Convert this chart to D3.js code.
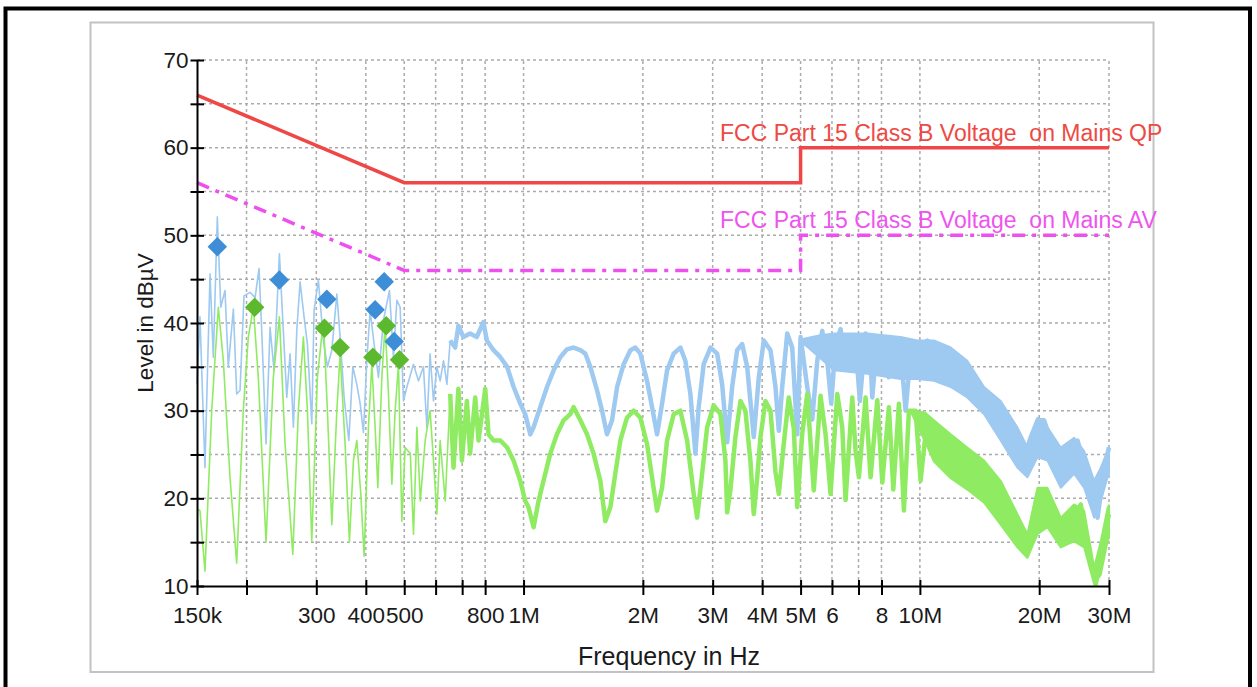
<!DOCTYPE html>
<html>
<head>
<meta charset="utf-8">
<script src="https://cdn.jsdelivr.net/npm/d3@7"></script>
<style>
  body { margin: 0; background: #fff; }
  svg { display: block; font-family: 'Liberation Sans', Arial, sans-serif; }
</style>
</head>
<body>
<div id="chart"></div>
<script>
// frequency axis (MHz) and level axis (dBµV)
const xTicks = [0.15, 0.2, 0.3, 0.4, 0.5, 0.6, 0.7, 0.8, 1, 2, 3, 4, 5, 6, 7, 8, 10, 20, 30];
const xTickLabels = ['150k', '', '300', '400', '500', '', '', '800', '1M', '2M', '3M', '4M', '5M', '6', '', '8', '10M', '20M', '30M'];
const yTicks = [10, 15, 20, 25, 30, 35, 40, 45, 50, 55, 60, 65, 70];
const yTickLabels = ['10', '', '20', '', '30', '', '40', '', '50', '', '60', '', '70'];

// limit lines [MHz, dBµV]
const limitQP = [[0.15, 66], [0.5, 56], [5, 56], [5, 60], [30, 60]];
const limitAV = [[0.15, 56], [0.5, 46], [5, 46], [5, 50], [30, 50]];
const limitQPLabel = 'FCC Part 15 Class B Voltage  on Mains QP';
const limitAVLabel = 'FCC Part 15 Class B Voltage  on Mains AV';

// peak (QP) trace
const qpLow = [[0.150, 33.0], [0.1526, 40.7], [0.1571, 23.5], [0.1618, 45.6], [0.1649, 36.1], [0.1688, 52.1],
  [0.1722, 41.8], [0.1765, 43.7], [0.1799, 35.0], [0.1853, 41.6], [0.1889, 31.9], [0.1926, 32.3], [0.1971, 43.1],
  [0.2041, 43.5], [0.2102, 42.9], [0.2151, 46.2], [0.2185, 39.1], [0.2240, 26.2], [0.2293, 39.5], [0.2347, 34.6],
  [0.2421, 47.9], [0.2469, 40.3], [0.2527, 31.5], [0.2576, 36.5], [0.2626, 28.1], [0.2678, 39.1], [0.2730, 44.7],
  [0.2794, 40.7], [0.2849, 37.6], [0.2922, 28.5], [0.2961, 41.4], [0.3036, 44.9], [0.3126, 38.0], [0.3200, 35.0],
  [0.3283, 36.9], [0.3380, 43.3], [0.3445, 38.4], [0.3526, 31.5], [0.3624, 26.6], [0.3709, 35.0], [0.3796, 33.0],
  [0.3870, 30.8], [0.3945, 27.5], [0.4023, 35.7], [0.4101, 41.4], [0.4198, 37.6], [0.4304, 33.8], [0.4431, 40.3],
  [0.4588, 43.7], [0.4696, 36.1], [0.4790, 42.6], [0.4883, 41.8], [0.4977, 31.1], [0.5077, 32.7], [0.5276, 35.3],
  [0.5431, 33.4], [0.5591, 35.0], [0.5703, 28.1], [0.581, 36.5], [0.5926, 31.1], [0.6044, 35.0], [0.616, 33.4],
  [0.6281, 35.7], [0.6406, 33.0], [0.653, 38.0]];
const qpHigh = [[0.653, 38.0], [0.672, 37.2], [0.685, 39.7], [0.705, 38.4], [0.733, 38.8], [0.762, 38.4],
  [0.792, 40.1], [0.808, 38.0], [0.840, 36.9], [0.874, 36.1], [0.909, 35.0], [0.944, 32.7], [0.981, 30.8],
  [1.010, 29.6], [1.040, 27.3], [1.060, 28.1], [1.102, 30.4], [1.146, 32.7], [1.191, 34.6], [1.238, 36.1],
  [1.287, 37.0], [1.337, 37.2], [1.391, 36.9], [1.432, 36.5], [1.474, 35.0], [1.533, 32.3], [1.578, 30.0],
  [1.624, 27.3], [1.672, 28.9], [1.722, 32.7], [1.789, 35.3], [1.860, 36.9], [1.915, 37.2], [1.971, 36.5],
  [2.049, 33.4], [2.110, 30.4], [2.172, 27.3], [2.236, 30.8], [2.302, 34.6], [2.392, 36.5], [2.487, 37.2],
  [2.560, 35.7], [2.636, 31.9], [2.714, 25.1], [2.766, 30.4], [2.848, 35.3], [2.962, 37.2], [3.080, 36.5],
  [3.170, 33.0], [3.264, 26.4], [3.360, 32.7], [3.459, 36.9], [3.561, 37.6], [3.666, 35.0], [3.809, 27.0],
  [3.922, 33.8], [4.038, 38.0], [4.198, 36.9], [4.322, 32.7], [4.406, 27.7], [4.494, 32.7], [4.627, 38.8],
  [4.763, 37.2], [4.904, 27.3], [5.000, 38.4], [5.198, 32.7], [5.351, 29.0], [5.509, 35.7], [5.671, 39.1],
  [5.838, 35.7], [5.975, 30.8], [6.127, 37.6], [6.307, 39.3], [6.493, 35.3], [6.751, 38.4], [6.951, 35.0],
  [7.057, 31.1], [7.294, 38.8], [7.509, 35.7], [7.584, 31.5], [7.808, 38.4], [8.112, 37.6], [8.352, 33.8],
  [8.519, 37.6], [8.940, 36.9], [9.204, 30.0], [9.475, 36.5], [9.851, 37.2], [10.44, 38.0], [11.06, 37.2],
  [11.73, 36.5], [12.43, 35.3], [13.17, 33.8], [13.96, 31.9], [14.81, 30.8], [15.69, 30.0], [16.63, 28.1],
  [17.62, 26.2], [18.32, 24.7], [19.05, 27.0], [19.80, 28.9], [20.57, 28.9], [21.39, 26.6], [22.67, 24.3],
  [23.57, 23.5], [24.27, 25.4], [24.98, 26.6], [25.72, 24.7], [26.48, 22.0], [27.52, 18.9], [28.07, 17.8],
  [28.89, 22.0], [29.75, 25.1], [30, 25.8]];
// noise band of the QP trace [MHz, low, high]
const qpBand = [[5.10, 37.6, 38.2], [5.60, 36.0, 38.6], [6.07, 34.6, 38.8], [7.37, 34.2, 38.8], [8.94, 33.6, 38.4],
  [9.85, 33.6, 38.0], [10.85, 33.4, 38.0], [11.96, 32.7, 37.2], [13.17, 31.5, 35.7], [14.52, 29.6, 32.7],
  [15.99, 26.6, 31.1], [17.62, 23.5, 28.1], [18.68, 22.4, 25.8], [19.80, 24.7, 29.2], [20.98, 24.3, 28.1],
  [22.67, 21.2, 25.8], [24.49, 22.8, 26.9], [25.97, 21.2, 25.4], [27.52, 17.8, 22.0], [28.61, 19.7, 23.5],
  [29.75, 22.4, 25.4], [30, 22.8, 26.0]];

// average (AV) trace
const avLow = [[0.150, 18.8], [0.1526, 18.6], [0.1571, 11.7], [0.1634, 30.0], [0.1698, 41.8], [0.1748, 35.7],
  [0.1817, 22.4], [0.1889, 12.6], [0.1963, 30.0], [0.2021, 38.4], [0.2081, 41.8], [0.2142, 33.8], [0.2240, 15.0],
  [0.2337, 33.8], [0.2421, 40.7], [0.2502, 26.2], [0.2617, 13.6], [0.2703, 30.0], [0.2783, 38.4], [0.2849, 30.0],
  [0.2922, 15.1], [0.3019, 33.8], [0.3126, 40.3], [0.3200, 30.0], [0.3283, 17.0], [0.3380, 30.0], [0.3445, 36.5],
  [0.3546, 26.2], [0.3636, 15.0], [0.3722, 24.3], [0.3796, 26.6], [0.3885, 20.5], [0.3960, 13.4], [0.4061, 28.1],
  [0.4142, 35.3], [0.4222, 28.1], [0.4289, 21.2], [0.4390, 33.8], [0.4475, 39.9], [0.4562, 31.9], [0.4653, 21.6],
  [0.4743, 30.0], [0.4835, 35.3], [0.4931, 17.4], [0.5027, 25.8], [0.518, 25.1], [0.5276, 15.9], [0.5381, 28.1],
  [0.549, 19.7], [0.5647, 26.6], [0.581, 30.0], [0.5926, 24.3], [0.6044, 18.2], [0.616, 26.6], [0.6344, 19.7],
  [0.653, 31.9]];
const avHigh = [[0.653, 31.9], [0.6657, 23.5], [0.685, 32.5], [0.6990, 24.3], [0.7195, 31.1], [0.733, 25.1],
  [0.7552, 31.5], [0.7698, 26.6], [0.8004, 32.5], [0.8159, 27.3], [0.840, 26.6], [0.874, 26.6], [0.909, 25.8],
  [0.944, 24.3], [0.981, 22.0], [1.010, 19.7], [1.029, 19.0], [1.060, 16.7], [1.091, 19.7], [1.123, 22.0],
  [1.168, 25.1], [1.214, 27.3], [1.262, 28.9], [1.312, 29.6], [1.337, 30.4], [1.391, 28.9], [1.446, 27.3],
  [1.502, 25.1], [1.562, 22.0], [1.608, 17.4], [1.656, 19.0], [1.704, 22.8], [1.755, 26.6], [1.824, 29.2],
  [1.896, 30.0], [1.971, 29.2], [2.049, 26.2], [2.129, 21.2], [2.172, 18.6], [2.236, 21.2], [2.302, 26.6],
  [2.392, 29.6], [2.487, 30.0], [2.586, 26.6], [2.687, 20.5], [2.741, 17.8], [2.822, 22.8], [2.905, 28.1],
  [3.018, 30.6], [3.139, 29.6], [3.231, 24.3], [3.264, 18.4], [3.327, 21.0], [3.424, 27.0], [3.526, 31.1],
  [3.629, 30.0], [3.737, 24.2], [3.809, 18.2], [3.880, 22.0], [3.961, 27.0], [4.077, 31.1], [4.198, 30.0],
  [4.322, 23.0], [4.406, 20.5], [4.534, 26.2], [4.668, 31.5], [4.806, 28.0], [4.904, 19.0], [5.046, 27.3],
  [5.198, 31.9], [5.398, 20.9], [5.615, 31.7], [5.781, 27.3], [5.951, 20.5], [6.188, 31.9], [6.370, 28.1],
  [6.493, 19.8], [6.751, 31.5], [6.882, 25.4], [7.016, 22.4], [7.294, 31.5], [7.509, 22.4], [7.808, 31.2],
  [8.037, 21.8], [8.352, 30.4], [8.569, 21.0], [8.852, 30.8], [9.113, 18.6], [9.382, 30.0], [9.755, 30.0],
  [10.04, 22.0], [10.44, 29.2], [10.85, 28.1], [11.50, 27.3], [12.19, 26.6], [12.92, 25.4], [13.70, 24.3],
  [14.52, 23.5], [15.38, 22.0], [16.30, 20.5], [17.28, 17.8], [18.32, 14.4], [19.05, 16.7], [19.80, 20.5],
  [20.57, 20.9], [21.39, 18.9], [22.67, 16.3], [23.57, 15.9], [24.49, 18.2], [25.47, 19.3], [26.22, 15.9],
  [26.99, 12.5], [27.79, 10.2], [28.61, 13.6], [29.45, 16.7], [30, 18.2]];
const avBand = [[9.55, 29.6, 30.0], [10.30, 26.5, 29.8], [10.85, 24.2, 28.9], [11.96, 22.3, 27.3],
  [13.17, 21.0, 25.8], [14.52, 19.5, 24.3], [15.99, 17.0, 22.0], [17.62, 14.4, 18.2], [18.68, 13.2, 15.9],
  [19.80, 15.9, 21.2], [20.98, 16.7, 21.2], [22.67, 14.4, 17.8], [24.49, 15.1, 19.3], [25.97, 14.4, 18.6],
  [27.52, 10.2, 12.1], [28.61, 11.3, 15.1], [29.75, 15.1, 18.9], [30, 15.5, 19.2]];

// final measurement markers
const qpMarkers = [[0.1688, 48.7], [0.2421, 44.9], [0.3189, 42.7], [0.4222, 41.5], [0.4450, 44.7], [0.4717, 37.9]];
const avMarkers = [[0.2097, 41.8], [0.3146, 39.4], [0.3445, 37.2], [0.4167, 36.1], [0.4503, 39.7], [0.4865, 35.8]];

const width = 1257;
const height = 687;

const svg = d3.select('#chart')
    .append('svg')
    .attr('width', width)
    .attr('height', height);

svg.append('rect')
    .attr('width', width)
    .attr('height', height)
    .attr('fill', '#fff');

// outer frame and chart panel
svg.append('rect')
    .attr('x', 5.5)
    .attr('y', 8.5)
    .attr('width', 1244.5)
    .attr('height', 700)
    .attr('fill', 'none')
    .attr('stroke', '#000')
    .attr('stroke-width', 4);

svg.append('rect')
    .attr('x', 90.5)
    .attr('y', 22.5)
    .attr('width', 1063)
    .attr('height', 649.5)
    .attr('fill', '#fff')
    .attr('stroke', '#c2c2c2')
    .attr('stroke-width', 2);

const x = d3.scaleLog()
    .domain([0.15, 30])
    .range([197, 1109]);

const y = d3.scaleLinear()
    .domain([10, 70])
    .range([586, 60]);

// grid
const grid = svg.append('g')
    .attr('stroke', '#ababab')
    .attr('stroke-width', 1.5)
    .attr('stroke-dasharray', '3,3');

grid.selectAll('.vgrid')
    .data(xTicks.slice(1))
    .enter()
    .append('line')
    .attr('class', 'vgrid')
    .attr('x1', function(d) {
      return x(d);
    })
    .attr('x2', function(d) {
      return x(d);
    })
    .attr('y1', y(10))
    .attr('y2', y(70));

grid.selectAll('.hgrid')
    .data(yTicks.slice(1))
    .enter()
    .append('line')
    .attr('class', 'hgrid')
    .attr('x1', x(0.15))
    .attr('x2', x(30))
    .attr('y1', function(d) {
      return y(d);
    })
    .attr('y2', function(d) {
      return y(d);
    });

const line = d3.line()
    .x(function(d) {
      return x(d[0]);
    })
    .y(function(d) {
      return y(d[1]);
    });

const band = d3.area()
    .x(function(d) {
      return x(d[0]);
    })
    .y0(function(d) {
      return y(d[1]);
    })
    .y1(function(d) {
      return y(d[2]);
    });

const drawTrace = function(low, high, noise, color) {
  const g = svg.append('g')
      .attr('fill', 'none')
      .attr('stroke', color)
      .attr('stroke-linejoin', 'round');
  g.append('path')
      .attr('d', band(noise))
      .attr('fill', color)
      .attr('stroke-width', 2);
  g.append('path')
      .attr('d', line(low))
      .attr('stroke-width', 1.6);
  g.append('path')
      .attr('d', line(high))
      .attr('stroke-width', 4.5);
};

drawTrace(qpLow, qpHigh, qpBand, '#9ec9f1');
drawTrace(avLow, avHigh, avBand, '#8feb62');

// limit lines
svg.append('path')
    .attr('d', line(limitQP))
    .attr('fill', 'none')
    .attr('stroke', '#ef4646')
    .attr('stroke-width', 3.5);

svg.append('path')
    .attr('d', line(limitAV))
    .attr('fill', 'none')
    .attr('stroke', '#ee4fee')
    .attr('stroke-width', 3.5)
    .attr('stroke-dasharray', '13,7,4,7');

svg.append('text')
    .attr('x', 720)
    .attr('y', 141)
    .attr('fill', '#ee4a44')
    .style('font-size', '23px')
    .style('white-space', 'pre')
    .text(limitQPLabel);

svg.append('text')
    .attr('x', 720)
    .attr('y', 228)
    .attr('fill', '#ee55ee')
    .style('font-size', '23px')
    .style('white-space', 'pre')
    .text(limitAVLabel);

// axes
const xAxis = svg.append('g')
    .attr('transform', 'translate(0,' + y(10) + ')')
    .call(d3.axisBottom(x)
        .tickValues(xTicks)
        .tickFormat(function(d, i) {
          return xTickLabels[i];
        })
        .tickSize(9)
        .tickSizeOuter(0)
        .tickPadding(12));

xAxis.selectAll('.tick line')
    .attr('y1', -6);

const yAxis = svg.append('g')
    .attr('transform', 'translate(' + x(0.15) + ',0)')
    .call(d3.axisLeft(y)
        .tickValues(yTicks)
        .tickFormat(function(d, i) {
          return yTickLabels[i];
        })
        .tickSize(6.5)
        .tickSizeOuter(0)
        .tickPadding(2));

yAxis.selectAll('.tick line')
    .attr('x1', 7);

svg.selectAll('.domain, .tick line')
    .attr('stroke', '#000')
    .attr('stroke-width', 2);

svg.selectAll('.tick text')
    .attr('fill', '#1a1a1a')
    .style('font-size', '22.5px')
    .style('font-family', '\'Liberation Sans\', Arial, sans-serif');

svg.append('text')
    .attr('transform', 'translate(153,323) rotate(-90)')
    .attr('text-anchor', 'middle')
    .attr('fill', '#1a1a1a')
    .style('font-size', '22.5px')
    .text('Level in dBµV');

svg.append('text')
    .attr('x', 669)
    .attr('y', 665)
    .attr('text-anchor', 'middle')
    .attr('fill', '#1a1a1a')
    .style('font-size', '25px')
    .text('Frequency in Hz');

// markers
const diamond = d3.symbol()
    .type(d3.symbolSquare)
    .size(190);

const drawMarkers = function(data, color) {
  svg.append('g')
      .selectAll('path')
      .data(data)
      .enter()
      .append('path')
      .attr('d', diamond)
      .attr('fill', color)
      .attr('transform', function(d) {
        return 'translate(' + x(d[0]) + ',' + y(d[1]) + ') rotate(45)';
      });
};

drawMarkers(qpMarkers, '#3d8dd7');
drawMarkers(avMarkers, '#5cb82d');
</script>
</body>
</html>
